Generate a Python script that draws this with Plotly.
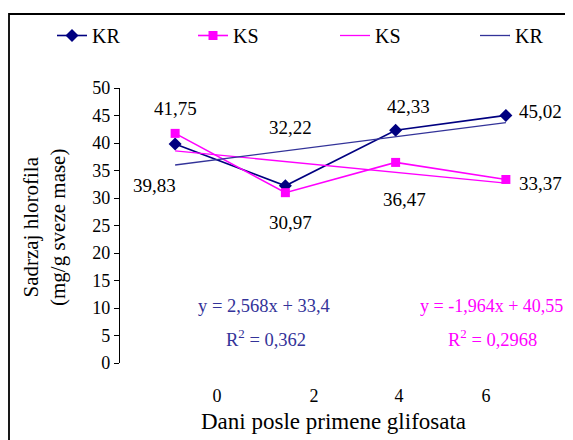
import numpy as np
import plotly.graph_objects as go

# ---- data ----
days = ["0", "2", "4", "6"]
kr_values = [39.83, 32.22, 42.33, 45.02]
ks_values = [41.75, 30.97, 36.47, 33.37]
kr_eq = ["y = 2,568x + 33,4", "R<sup>2</sup> = 0,362"]
ks_eq = ["y = -1,964x + 40,55", "R<sup>2</sup> = 0,2968"]
y_title = "Sadrzaj hlorofila<br>(mg/g sveze mase)"
x_title = "Dani posle primene glifosata"

# category index positions (Excel category axis)
idx = np.arange(len(days))
# linear trend fitted on x = 1..n, as Excel does
kr_fit = np.polyfit(idx + 1, kr_values, 1)
ks_fit = np.polyfit(idx + 1, ks_values, 1)
kr_trend = np.polyval(kr_fit, idx + 1)
ks_trend = np.polyval(ks_fit, idx + 1)

NAVY = "#000080"
MAG = "#FF00FF"
KRT = "#333399"
FONT = "Liberation Serif"

OFF = 8  # page body margin
W, H = 573 - OFF, 440 - OFF
# plot area in screen pixels: x 120..561, y 88..363
L, R, T, B = 120 - OFF, 573 - 561, 88 - OFF, 440 - 363
pw, ph = W - L - R, H - T - B


def px_x(s):
    return (s - OFF - L) / pw


def px_y(s):
    return (H - B - (s - OFF)) / ph


fig = go.Figure()
fig.add_trace(go.Scatter(x=idx, y=kr_values, name="KR", mode="lines+markers",
                         line=dict(color=NAVY, width=1.6), legend="legend",
                         marker=dict(symbol="diamond", size=10, color=NAVY)))
fig.add_trace(go.Scatter(x=idx, y=ks_values, name="KS", mode="lines+markers",
                         line=dict(color=MAG, width=1.6), legend="legend2",
                         marker=dict(symbol="square", size=9, color=MAG)))
fig.add_trace(go.Scatter(x=idx, y=ks_trend, name="KS", mode="lines",
                         legend="legend3", line=dict(color=MAG, width=1.3)))
fig.add_trace(go.Scatter(x=idx, y=kr_trend, name="KR", mode="lines",
                         legend="legend4", line=dict(color=KRT, width=1.3)))


def fmt(v):
    return f"{v:.2f}".replace(".", ",")


annotations = []
# data label offsets (pixels) for KR and KS
kr_off = [(-21, -42), (5, 58), (13, 24), (35, 4)]
ks_off = [(0, 25), (5, -30), (9, -37), (35, -4)]
for i, v in enumerate(kr_values):
    annotations.append(dict(x=i, y=v, text=fmt(v), showarrow=False,
                            xshift=kr_off[i][0], yshift=kr_off[i][1],
                            font=dict(family=FONT, size=19, color="black")))
for i, v in enumerate(ks_values):
    annotations.append(dict(x=i, y=v, text=fmt(v), showarrow=False,
                            xshift=ks_off[i][0], yshift=ks_off[i][1],
                            font=dict(family=FONT, size=19, color="black")))


def pann(sx, sy, text, size, color, **kw):
    return dict(xref="paper", yref="paper", x=px_x(sx), y=px_y(sy), text=text,
                xanchor="center", yanchor="middle", showarrow=False,
                font=dict(family=FONT, size=size, color=color), **kw)


annotations += [
    pann(264, 306, kr_eq[0], 18.5, KRT),
    pann(266, 338, kr_eq[1], 18.5, KRT),
    pann(491, 306, ks_eq[0], 18, MAG),
    pann(492, 338, ks_eq[1], 18.5, MAG),
    pann(333, 421, x_title, 23, "black"),
    pann(45, 228, y_title, 21, "black", textangle=-90),
]

# x tick labels sit at offset positions in the original chart
tick_pos = [0.38, 1.26, 2.03, 2.82]


def leg(sx):
    return dict(orientation="h", x=px_x(sx), y=px_y(16), xanchor="left", yanchor="top",
                font=dict(family=FONT, size=20, color="black"),
                bgcolor="rgba(0,0,0,0)", borderwidth=0)


fig.update_layout(
    width=W, height=H,
    margin=dict(l=L, r=R, t=T, b=B, autoexpand=False),
    paper_bgcolor="white", plot_bgcolor="white",
    font=dict(family=FONT, size=18, color="black"),
    showlegend=True,
    legend=leg(52), legend2=leg(193), legend3=leg(335), legend4=leg(475),
    annotations=annotations,
    shapes=[dict(type="rect", xref="paper", yref="paper",
                 x0=px_x(9), x1=px_x(600), y0=px_y(470), y1=px_y(14),
                 line=dict(color="black", width=1.8), layer="below")],
)
fig.update_xaxes(range=[-0.5, 3.5], showgrid=False, zeroline=False, showline=False,
                 tickmode="array", tickvals=tick_pos, ticktext=days, ticks="",
                 ticklabelstandoff=20, tickfont=dict(family=FONT, size=18))
fig.update_yaxes(range=[0, 50], dtick=5, showgrid=False, zeroline=False,
                 showline=True, linecolor="black", linewidth=1.2,
                 ticks="outside", ticklen=5, tickcolor="black",
                 tickfont=dict(family=FONT, size=18))

fig.write_html("out.html")
